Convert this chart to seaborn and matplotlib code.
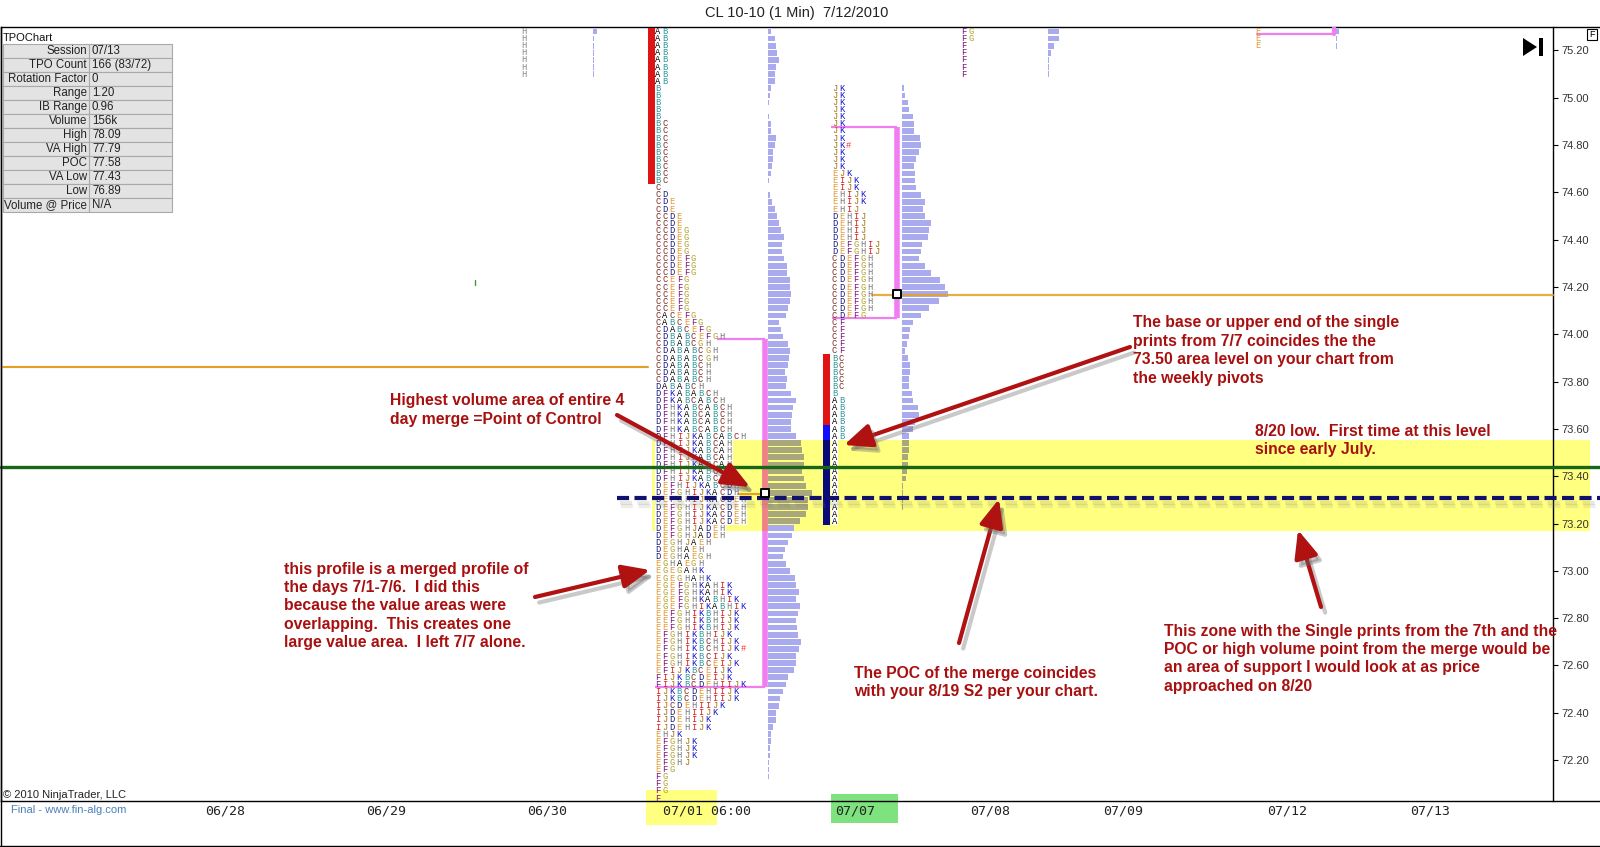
import numpy as np
import pandas as pd
import matplotlib
matplotlib.use("Agg")
import matplotlib.pyplot as plt
import seaborn as sns
from matplotlib.patches import Rectangle, Polygon
from matplotlib.lines import Line2D
from matplotlib.transforms import blended_transform_factory
import matplotlib.patheffects as pe

# --- data ---
tick = 0.03  # price height of one TPO row

# merged 7/1 - 7/6 profile
p1_top = 75.28
p1_rows = (["AB"] * 8 + ["B"] * 5 + ["BC"] * 9 + ["C", "CD"] + ["CDE"] * 2 + ["CCDE"] * 2
           + ["CCDEG"] * 4 + ["CCDEFG"] * 3 + ["CCEFG"] * 5
           + ["CACEFG", "CABCEFG", "CDABCEFG", "CDBABCEFGH", "CDBABCGH"]
           + ["CDABABCGH"] * 2 + ["CDABABCH"] * 3 + ["DABABCH", "DFKABABCH", "DFKABCABCH"]
           + ["DFHKABCABCH"] * 4 + ["DFHIJKABCABCH"] + ["DFHIJKABCAH"] * 4
           + ["DFHIJKABCDH"] * 2 + ["DEFHIJKABCDH", "DEFGHIJKACDH"] + ["DEFGHIJKACDEH"] * 4
           + ["DEFGHJADEH"] * 2
           + ["DEGHJAEH", "DEGHAEH", "DEGHAEGH", "EGHAEGH", "EGEGAHK", "EGEGHAHK"]
           + ["EGEFGHKAHIK"] * 2 + ["EGEFGHKABHIK", "EGEFGHIKABHIK"] + ["EEFGHIKBHIJK"] * 3
           + ["EFGHIKBHIJK", "EFGHIKBCHIJK", "EFGHIKBCHIJK#", "EFGHIKBCIJK", "EFGHIKBCEIJK",
              "EFIJKBCEIJK", "FIJKBCDEIJK", "FIJKBCDEHIIJK"] + ["IJKBCDEHIIJK"] * 2
           + ["IJCDEHIIJK", "IJDEHIIJK"] + ["IJDEHIJK"] * 2 + ["EHJK"] + ["EFGHJK"] * 3
           + ["EFGHJ", "EFG"] + ["FG"] * 3 + ["F"])
p1_vol = [3, 7, 8, 9, 11, 8, 7, 7, 3, 2,
          1, 0, 1, 3, 3, 8, 7, 5, 5, 4,
          3, 0.5, 0, 2, 4, 7, 9, 11, 13, 16,
          14, 14, 16, 19, 19, 22, 22, 23, 22, 20,
          18, 11, 13, 15, 20, 22, 21, 20, 17, 19,
          18, 23, 28, 25, 24, 23, 23, 28, 33, 34,
          36, 36, 34, 36, 38, 44, 40, 40, 38, 32,
          26, 24, 20, 17, 15, 18, 22, 27, 28, 31,
          28, 32, 30, 28, 29, 30, 33, 31, 28, 28,
          26, 20, 18, 15, 12, 11, 8, 8, 5, 3,
          3, 2, 2, 1, 1, 0.5, 0, 0, 0]
p1_ib = [(0, 21, "#e01414")]
p1_va = (43, 92)
p1_poc = 65

# 7/7 profile
p2_top = 75.04
p2_rows = (["JK"] * 8 + ["JK#"] + ["JK"] * 3 + ["EJK"] + ["EIJK"] * 2 + ["EHIJK"] * 2
           + ["EHIJ"] + ["DEHIJ"] * 4 + ["DEFGHIJ"] * 2 + ["CDEFGH"] * 8 + ["CDEFG"]
           + ["CF"] * 5 + ["BC"] * 5 + ["B"] + ["AB"] * 6 + ["A"] * 12)
p2_vol = [2, 3, 6, 7, 11, 12, 12, 18, 19, 17,
          14, 12, 13, 13, 14, 19, 23, 21, 23, 29,
          27, 26, 20, 19, 17, 23, 29, 38, 43, 46,
          37, 27, 19, 11, 8, 7, 5, 3, 6, 8,
          8, 7, 7, 10, 11, 16, 17, 13, 11, 7,
          7, 7, 6, 6, 5, 4, 1, 0.5, 0.5, 0.5, 0, 0]
p2_ib = [(38, 47, "#e01414"), (48, 49, "#1010ff"), (50, 61, "#0a0a78")]
p2_va = (5, 32)
p2_poc = 29

# bits of other sessions poking in at the top edge
top_rows_a = ["H"] * 7
top_vol_a = [4, 1, 1, 1, 1, 1, 1]
top_rows_b = ["FG", "FG", "F", "F", "F", "F", "F"]
top_vol_b = [11, 11, 6, 3, 1, 1, 1]
top_rows_c = ["E", "E", "E"]
top_vol_c = [3, 1, 1]

# reference levels
zone_lo, zone_hi = 73.17, 73.555
green_level = 73.44
s2_level = 73.31
pivot_level = 73.86

price_ticks = ["72.20", "72.40", "72.60", "72.80", "73.00", "73.20", "73.40", "73.60",
               "73.80", "74.00", "74.20", "74.40", "74.60", "74.80", "75.00", "75.20"]
date_labels = ["06/28", "06/29", "06/30", "07/01 06:00", "07/07", "07/08", "07/09", "07/12", "07/13"]

stat_labels = ["Session", "TPO Count", "Rotation Factor", "Range", "IB Range", "Volume",
               "High", "VA High", "POC", "VA Low", "Low", "Volume @ Price"]
stat_values = ["07/13", "166 (83/72)", "0", "1.20", "0.96", "156k",
               "78.09", "77.79", "77.58", "77.43", "76.89", "N/A"]

# --- layout / style ---
W, H = 1600, 847
date_pos = [225, 386, 547, 707, 855, 990, 1123, 1287, 1430]
DX = 7.1
LAV, OLIVE = "#aaaaee", "#a9a77c"
PINK, SALMON = "#f07ef0", "#f08282"
ORANGE = "#e3a020"
RED = "#a80f0f"
tpo_colors = {"A": "#000000", "B": "#2f9a9c", "C": "#7c2c26", "D": "#1c1c82", "E": "#e39a35",
              "F": "#7d127d", "G": "#b3a22e", "H": "#7a7a7a", "I": "#d42020", "J": "#a4740f",
              "K": "#1414cc", "#": "#ff2a2a"}

sns.set_theme(style="white")
plt.rcParams["font.family"] = ["Liberation Sans", "DejaVu Sans"]


def fx(x):
    return x / W


def fy(y):
    return 1 - y / H


fig = plt.figure(figsize=(16, 8.47), dpi=100)
ax = fig.add_axes([fx(1), fy(801), fx(1600) - fx(1), fy(27) - fy(801)])
ax.set_facecolor("white")
ax.set_axisbelow("line")


def row_prices(top, n):
    return np.round(top - tick * np.arange(n), 2)


def draw_letters(x0, top, rows, color=None):
    for i, s in enumerate(rows):
        p = top - i * tick
        for j, ch in enumerate(s):
            ax.text(x0 + j * DX, p - 0.011, ch, color=color or tpo_colors[ch], fontsize=6.3,
                    family="Liberation Mono", ha="center", va="baseline", zorder=5)


def draw_volume(x0, top, vol, shade_zone=True):
    pr = row_prices(top, len(vol))
    inside = (pr > zone_lo + 0.01) & (pr < zone_hi) if shade_zone else np.zeros(len(pr), bool)
    cols = [OLIVE if k else LAV for k in inside]
    ax.barh(pr, vol, left=x0, height=0.8 * tick, color=cols, linewidth=0, zorder=3)


def draw_profile(top, rows, vol, lx, vx, vax, ibx, ib, va, va_top_x, salmon=False):
    # white cells behind the letters inside the yellow zone
    for i, s in enumerate(rows):
        p = top - i * tick
        if p - tick / 2 < zone_hi and p + tick / 2 > zone_lo:
            ax.add_patch(Rectangle((lx - 3.5, p - tick / 2), len(s) * DX, tick,
                                   facecolor="white", lw=0, zorder=2))
    draw_letters(lx, top, rows)
    draw_volume(vx, top, vol)
    for a, b, c in ib:
        ax.bar(ibx, (b - a + 1) * tick, bottom=top - b * tick - tick / 2, width=7,
               color=c, linewidth=0, zorder=3)
    vt = top - va[0] * tick - 0.012
    vb = top - va[1] * tick - 0.012
    ax.plot([va_top_x, vax], [vt, vt], color=PINK, lw=1.6, zorder=3, solid_capstyle="butt")
    ax.plot([lx - 3, vax], [vb, vb], color=PINK, lw=1.6, zorder=3, solid_capstyle="butt")
    ax.plot([vax, vax], [vb, vt], color=PINK, lw=4, zorder=3, solid_capstyle="butt")
    if salmon:
        ax.plot([vax, vax], [max(zone_lo, vb), min(zone_hi, vt)], color=SALMON, lw=4,
                zorder=3.1, solid_capstyle="butt")


# yellow support zone
ax.add_patch(Rectangle((652, zone_lo), 1590 - 652, zone_hi - zone_lo,
                       facecolor="#ffff80", lw=0, zorder=1, clip_on=False))

draw_profile(p1_top, p1_rows, p1_vol, 658, 768, 764.5, 651.5, p1_ib, p1_va, 717, salmon=True)
draw_profile(p2_top, p2_rows, p2_vol, 834.5, 902, 897, 826.5, p2_ib, p2_va, 831)

# top-edge remnants of other sessions
draw_letters(524, p1_top, top_rows_a, color="#8a8a8a")
draw_volume(593, p1_top, top_vol_a, shade_zone=False)
draw_letters(964, p1_top, top_rows_b)
draw_volume(1048, p1_top, top_vol_b, shade_zone=False)
draw_letters(1258, p1_top, top_rows_c)
draw_volume(1336, p1_top, top_vol_c, shade_zone=False)
ax.plot([1257, 1334], [75.268, 75.268], color=PINK, lw=1.6, zorder=3)
ax.plot([1334, 1334], [75.268, 75.30], color=PINK, lw=3, zorder=3)
ax.plot([475, 475], [74.21, 74.23], color="#3c9c3c", lw=1, zorder=3)

# reference lines
ax.plot([1, 648], [pivot_level] * 2, color=ORANGE, lw=1.5, zorder=4)
p1_poc_p = p1_top - p1_poc * tick
p2_poc_p = p2_top - p2_poc * tick
ax.plot([738, 762], [p1_poc_p - 0.004] * 2, color=ORANGE, lw=1.5, zorder=4)
ax.plot([872, 1553], [p2_poc_p - 0.004] * 2, color=ORANGE, lw=1.6, alpha=0.85, zorder=4)
ax.plot([1, 1600], [green_level] * 2, color="#176717", lw=2.4, zorder=6, clip_on=False)
ax.plot([617, 1600], [s2_level] * 2, color="#12126e", lw=3, dashes=(2.9, 1.3), zorder=6,
        clip_on=False,
        path_effects=[pe.SimpleLineShadow(offset=(2, -4), shadow_color="#808070", alpha=0.18),
                      pe.SimpleLineShadow(offset=(3, -6), shadow_color="#808070", alpha=0.14),
                      pe.Normal()])

# POC markers
poc_df = pd.DataFrame({"x": [764.5, 897], "price": [p1_poc_p, p2_poc_p]})
sns.scatterplot(data=poc_df, x="x", y="price", marker="s", s=26, color="white",
                edgecolor="black", linewidth=1.4, zorder=7, ax=ax, legend=False)

# axes styling
ax.set_xlim(1, 1600)
ax.set_ylim(72.027, 75.299)
ax.set_xlabel("")
ax.set_ylabel("")
ax.grid(False)
for side in ["top", "bottom", "left", "right"]:
    ax.spines[side].set_color("black")
    ax.spines[side].set_linewidth(1)
ax.spines["right"].set_position(("data", 1553))
ax.yaxis.tick_right()
ax.set_yticks([float(t) for t in price_ticks], price_ticks)
ax.tick_params(axis="y", direction="out", length=3.8, width=0.8, color="black", pad=2,
               labelsize=8, labelcolor="#333333")
ax.set_xticks(date_pos, date_labels)
ax.tick_params(axis="x", length=0, pad=2.5, labelsize=9.5, labelcolor="#222222")
for lbl in ax.get_xticklabels():
    lbl.set_fontfamily("DejaVu Sans Mono")

# highlight boxes behind the 07/01 and 07/07 dates
btr = blended_transform_factory(ax.transData, fig.transFigure)
ax.add_patch(Rectangle((646, fy(825)), 71, (825 - 790) / H, transform=btr,
                       facecolor="#ffff80", lw=0, zorder=0.3, clip_on=False))
ax.add_patch(Rectangle((831, fy(823)), 67, (823 - 794) / H, transform=btr,
                       facecolor="#7ee27e", lw=0, zorder=0.3, clip_on=False))

# annotations
tstyle = dict(fontsize=11.3, fontweight="bold", color=RED, ha="left", va="top",
              linespacing=1.28, zorder=8)
notes = [
    (390, 393.5, "Highest volume area of entire 4\nday merge =Point of Control"),
    (1133, 315.5, "The base or upper end of the single\nprints from 7/7 coincides the the\n"
                  "73.50 area level on your chart from\nthe weekly pivots"),
    (1255, 423.5, "8/20 low.  First time at this level\nsince early July."),
    (284, 561.5, "this profile is a merged profile of\nthe days 7/1-7/6.  I did this\n"
                 "because the value areas were\noverlapping.  This creates one\n"
                 "large value area.  I left 7/7 alone."),
    (854, 665.5, "The POC of the merge coincides\nwith your 8/19 S2 per your chart."),
    (1164, 623.5, "This zone with the Single prints from the 7th and the\n"
                  "POC or high volume point from the merge would be\n"
                  "an area of support I would look at as price\napproached on 8/20"),
]
for x, y, s in notes:
    fig.text(fx(x), fy(y), s, **tstyle)

arrows = [((617, 415), (750, 487)), ((1130, 347), (844, 445)), ((535, 597), (650, 570)),
          ((959, 643), (999, 499)), ((1321, 607), (1298, 530))]
shadow = [pe.SimpleLineShadow(offset=(3, -4), shadow_color="#666666", alpha=0.35),
          pe.SimplePatchShadow(offset=(3, -4), shadow_rgbFace="#666666", alpha=0.35),
          pe.Normal()]
for (x0, y0), (x1, y1) in arrows:
    ax.annotate("", xy=(x1, H - y1), xytext=(x0, H - y0), xycoords="figure pixels",
                textcoords="figure pixels", annotation_clip=False,
                arrowprops=dict(arrowstyle="-|>,head_length=1.4,head_width=0.6",
                                color="#b01212", lw=3, shrinkA=0, shrinkB=0,
                                path_effects=shadow), zorder=8)

# title, footer and frame
fig.text(fx(797), fy(13), "CL 10-10 (1 Min)  7/12/2010", ha="center", va="center",
         fontsize=10.5, color="#222222")
fig.text(fx(3), fy(795), "\u00a9 2010 NinjaTrader, LLC", ha="left", va="center",
         fontsize=8, color="#222222")
fig.text(fx(11), fy(810), "Final - www.fin-alg.com", ha="left", va="center",
         fontsize=8, color="#4a80b8")
fig.add_artist(Line2D([fx(0.5), fx(0.5)], [fy(27), fy(846)], transform=fig.transFigure,
                      color="black", lw=1))
fig.add_artist(Line2D([0, 1], [fy(846), fy(846)], transform=fig.transFigure,
                      color="black", lw=1))

# stats table
fig.text(fx(3), fy(38), "TPOChart", ha="left", va="center", fontsize=8, color="#111111")
for k, (lab, val) in enumerate(zip(stat_labels, stat_values)):
    y = 44 + 14 * k
    fig.add_artist(Rectangle((fx(3), fy(y + 14)), 169 / W, 14 / H, transform=fig.transFigure,
                             facecolor="#e3e3e3", edgecolor="#a9a9a9", lw=0.8))
    fig.add_artist(Line2D([fx(89), fx(89)], [fy(y), fy(y + 14)], transform=fig.transFigure,
                          color="#a9a9a9", lw=0.8))
    fig.text(fx(87), fy(y + 7), lab, ha="right", va="center", fontsize=8.3, color="#222222")
    fig.text(fx(92), fy(y + 7), val, ha="left", va="center", fontsize=8.3, color="#222222")

# play-to-end icon and F box, top right
fig.add_artist(Polygon([(fx(1523), fy(38)), (fx(1523), fy(56)), (fx(1537), fy(47))],
                       closed=True, transform=fig.transFigure, facecolor="black", lw=0))
fig.add_artist(Rectangle((fx(1539), fy(56)), 4 / W, 18 / H, transform=fig.transFigure,
                         facecolor="black", lw=0))
fig.add_artist(Rectangle((fx(1587), fy(40)), 10 / W, 11 / H, transform=fig.transFigure,
                         facecolor="white", edgecolor="black", lw=0.8))
fig.text(fx(1592), fy(34.5), "F", ha="center", va="center", fontsize=6.5, color="black")

fig.savefig("out.png", dpi=100)
